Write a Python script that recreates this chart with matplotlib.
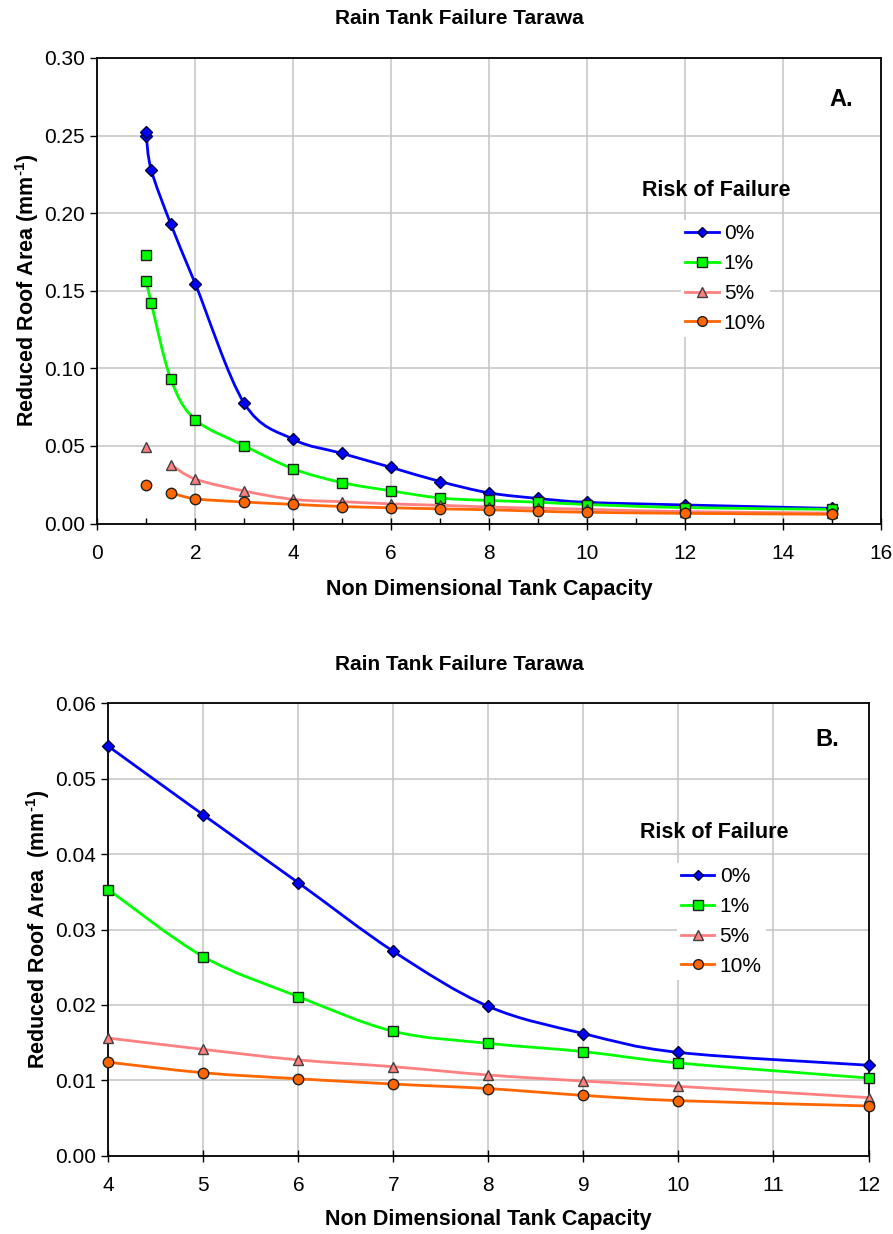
import numpy as np
import matplotlib
matplotlib.use("Agg")
import matplotlib.pyplot as plt
from matplotlib.path import Path
from matplotlib.patches import PathPatch
from matplotlib.lines import Line2D
from matplotlib.ticker import MultipleLocator, FormatStrFormatter

plt.rcParams['font.family'] = ['Liberation Sans', 'DejaVu Sans']
plt.rcParams['mathtext.fontset'] = 'custom'
plt.rcParams['mathtext.rm'] = 'Liberation Sans:bold'
plt.rcParams['mathtext.bf'] = 'Liberation Sans:bold'

# Non dimensional tank capacity and reduced roof area (mm^-1) per risk level
capacity_hi = [1, 1.1, 1.5, 2, 3, 4, 5, 6, 7, 8, 9, 10, 12, 15]
risk_0 = [0.250, 0.228, 0.193, 0.1546, 0.0775, 0.0543, 0.0452, 0.0362, 0.0271,
          0.0198, 0.0162, 0.0137, 0.0120, 0.0098]
risk_1 = [0.1565, 0.1423, 0.0932, 0.0670, 0.0502, 0.0353, 0.0264, 0.0211, 0.0165,
          0.0149, 0.0138, 0.0123, 0.0103, 0.0092]
capacity_lo = [1.5, 2, 3, 4, 5, 6, 7, 8, 9, 10, 12, 15]
risk_5 = [0.0380, 0.0287, 0.0210, 0.0156, 0.0141, 0.0127, 0.0118, 0.0107, 0.0099,
          0.0092, 0.0077, 0.0068]
risk_10 = [0.0199, 0.0160, 0.0139, 0.0124, 0.0110, 0.0102, 0.0095, 0.0089, 0.0080,
           0.0073, 0.0066, 0.0060]

# Separate single observations at capacity 1
single_x = 1
single_vals = [0.252, 0.173, 0.0496, 0.0249]

labels = ['0%', '1%', '5%', '10%']
line_colors = ['#0000FF', '#00FF00', '#FF8080', '#FF6600']
markers = ['D', 's', '^', 'o']
marker_sizes = [6, 7.5, 7.5, 7.5]
edge_colors = ['#000040', '#202020', '#404040', '#202020']

series = [(capacity_hi, risk_0), (capacity_hi, risk_1),
          (capacity_lo, risk_5), (capacity_lo, risk_10)]

TITLE = 'Rain Tank Failure Tarawa'
XLABEL = 'Non Dimensional Tank Capacity'


def smooth_path(x, y):
    """Cubic Bezier path through the points (Catmull-Rom style smoothing)."""
    p = np.column_stack([x, y]).astype(float)
    n = len(p)
    verts = [p[0]]
    codes = [Path.MOVETO]
    for i in range(n - 1):
        p0 = p[i - 1] if i > 0 else p[i]
        p1 = p[i]
        p2 = p[i + 1]
        p3 = p[i + 2] if i + 2 < n else p[i + 1]
        c1 = p1 + (p2 - p0) / 6.0
        c2 = p2 - (p3 - p1) / 6.0
        verts += [c1, c2, p2]
        codes += [Path.CURVE4] * 3
    return Path(verts, codes)


def draw_panel(ax, xlo, xhi, with_single):
    handles = []
    for k, (xs, ys) in enumerate(series):
        xs = np.asarray(xs, float)
        ys = np.asarray(ys, float)
        m = (xs >= xlo) & (xs <= xhi)
        xs, ys = xs[m], ys[m]
        patch = PathPatch(smooth_path(xs, ys), facecolor='none',
                          edgecolor=line_colors[k], lw=2.0, zorder=3)
        ax.add_patch(patch)
        ax.plot(xs, ys, linestyle='none', marker=markers[k],
                ms=marker_sizes[k], mfc=line_colors[k], mec=edge_colors[k],
                mew=1.0, zorder=4, clip_on=False)
        if with_single:
            ax.plot([single_x], [single_vals[k]], linestyle='none',
                    marker=markers[k], ms=marker_sizes[k], mfc=line_colors[k],
                    mec=edge_colors[k], mew=1.0, zorder=4, clip_on=False)
        handles.append(Line2D([], [], color=line_colors[k], lw=2.0,
                              marker=markers[k], ms=marker_sizes[k] - 0.5,
                              mfc=line_colors[k], mec=edge_colors[k], mew=1.0))
    return handles


def style_axes(ax):
    ax.grid(True, which='major', color='#C8C8C8', lw=1.2, zorder=0)
    ax.set_axisbelow(True)
    for s in ax.spines.values():
        s.set_color('black')
        s.set_linewidth(1.3)
    ax.tick_params(axis='x', which='major', direction='inout', length=9,
                   width=1.0, labelsize=15, pad=10)
    ax.tick_params(axis='x', which='minor', direction='in', length=4,
                   width=1.0)
    ax.tick_params(axis='y', direction='out', length=5, width=1.0,
                   labelsize=15, pad=4)
    ax.yaxis.set_major_formatter(FormatStrFormatter('%.2f'))


W, H = 893, 1234
fig = plt.figure(figsize=(W / 100, H / 100), dpi=100)


def axes_px(left, top, right, bottom):
    return fig.add_axes([left / W, 1 - bottom / H, (right - left) / W,
                         (bottom - top) / H])


def fig_text(x, y, s, **kw):
    fig.text(x / W, 1 - y / H, s, ha='center', va='center', **kw)


# Panel A
axA = axes_px(97.3, 58, 881, 523.6)
hA = draw_panel(axA, 0, 16, True)
axA.set_xlim(0, 16)
axA.set_ylim(0, 0.30)
axA.xaxis.set_major_locator(MultipleLocator(2))
axA.xaxis.set_minor_locator(MultipleLocator(1))
axA.yaxis.set_major_locator(MultipleLocator(0.05))
style_axes(axA)
axA.set_xlabel(XLABEL, fontsize=15.5, fontweight='bold', labelpad=12)
axA.set_ylabel('Reduced Roof Area (mm$^{\\text{-1}}$)', fontsize=15.5,
               fontweight='bold', labelpad=2)
fig_text(459, 18, TITLE, fontsize=15, fontweight='bold')
fig_text(841, 100, 'A.', fontsize=17, fontweight='bold')
fig_text(716, 191, 'Risk of Failure', fontsize=15.5, fontweight='bold')
legA = axA.legend(hA, labels, loc='upper left', bbox_to_anchor=(0.745, 0.652),
                  frameon=True, facecolor='white', edgecolor='none',
                  framealpha=1, fancybox=False, fontsize=15, handlelength=1.6,
                  handletextpad=0.25, labelspacing=0.52, borderpad=0.2,
                  borderaxespad=0)
legA.set_zorder(5)

# Panel B
axB = axes_px(108.3, 703.3, 868.5, 1155.7)
hB = draw_panel(axB, 4, 12, False)
axB.set_xlim(4, 12)
axB.set_ylim(0, 0.06)
axB.xaxis.set_major_locator(MultipleLocator(1))
axB.yaxis.set_major_locator(MultipleLocator(0.01))
style_axes(axB)
axB.set_xlabel(XLABEL, fontsize=15.5, fontweight='bold', labelpad=10)
axB.set_ylabel('Reduced Roof Area  (mm$^{\\text{-1}}$)', fontsize=15.5,
               fontweight='bold', labelpad=2)
fig_text(459, 665, TITLE, fontsize=15, fontweight='bold')
fig_text(827, 740, 'B.', fontsize=17, fontweight='bold')
fig_text(714, 832, 'Risk of Failure', fontsize=15.5, fontweight='bold')
legB = axB.legend(hB, labels, loc='upper left', bbox_to_anchor=(0.748, 0.647),
                  frameon=True, facecolor='white', edgecolor='none',
                  framealpha=1, fancybox=False, fontsize=15, handlelength=1.6,
                  handletextpad=0.25, labelspacing=0.52, borderpad=0.2,
                  borderaxespad=0)
legB.set_zorder(5)

fig.savefig('out.png', dpi=100, facecolor='white')
